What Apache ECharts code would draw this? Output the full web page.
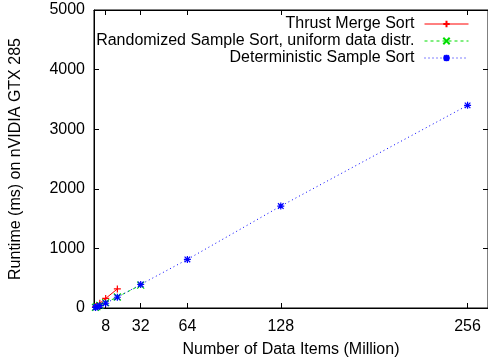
<!DOCTYPE html>
<html>
<head>
<meta charset="utf-8">
<script src="https://cdn.jsdelivr.net/npm/echarts@6/dist/echarts.min.js"></script>
<style>html,body{margin:0;padding:0;background:#fff}#c{width:488px;height:363px}</style>
</head>
<body>
<div id="c"></div>
<script>
var xTicks = [8, 32, 64, 128, 256];
var thrustX = [1, 2, 4, 8, 16];
var thrustY = [20, 40, 80, 160, 320];
var randX = [1, 2, 4, 8, 16, 32];
var randY = [10, 22, 45, 90, 185, 385];
var detX = [1, 2, 4, 8, 16, 32, 64, 128, 256];
var detY = [10, 20, 40, 80, 180, 395, 815, 1710, 3400];
var names = ['Thrust Merge Sort', 'Randomized Sample Sort, uniform data distr.', 'Deterministic Sample Sort'];

function pairs(xs, ys) { return xs.map(function (x, i) { return [x, ys[i]]; }); }

var FONT = 'Liberation Sans, Arial, sans-serif';
var plus = 'path://M0,5L10,5M5,0L5,10';
var cross = 'path://M0,0L10,10M10,0L0,10';
var star = 'path://M0,5L10,5M5,0L5,10M1,1L9,9M9,1L1,9';

var chart = echarts.init(document.getElementById('c'), null, {renderer: 'canvas'});

function mkSeries(name, data, color, type, sym) {
  return {
    name: name, type: 'line', data: data, color: color,
    xAxisIndex: 0, yAxisIndex: 0,
    symbol: sym, symbolSize: 7, showSymbol: true,
    lineStyle: {color: color, width: 1, type: type},
    itemStyle: {color: color, borderColor: color, borderWidth: 1.2},
    animation: false, silent: true
  };
}
function mkLegend(i, top) {
  return {
    data: [names[i]], right: 19, top: top + 1, align: 'right', orient: 'vertical',
    itemWidth: 44, itemHeight: 8, padding: 0,
    lineStyle: {width: 1},
    textStyle: {fontFamily: FONT, fontSize: 16, color: '#000', padding: [0, 5, 0, 0]},
    selectedMode: false
  };
}
var tickStyle = {show: true, inside: true, length: 5, lineStyle: {color: '#000', width: 1}};

chart.setOption({
  animation: false,
  grid: {left: 92, top: 10, width: 397, height: 299, show: true, borderColor: '#000', borderWidth: 1, backgroundColor: 'transparent'},
  legend: [mkLegend(0, 15), mkLegend(1, 32), mkLegend(2, 49)],
  xAxis: [{
    type: 'value', min: 0, max: 270, position: 'bottom',
    name: 'Number of Data Items (Million)', nameLocation: 'middle', nameGap: 34,
    nameTextStyle: {fontFamily: FONT, fontSize: 16, color: '#000'},
    axisLine: {show: true, onZero: false, lineStyle: {color: '#000'}},
    axisTick: Object.assign({customValues: xTicks}, tickStyle),
    axisLabel: {customValues: xTicks, fontFamily: FONT, fontSize: 16, color: '#000', margin: 11},
    splitLine: {show: false}
  }, {
    type: 'value', min: 0, max: 270, position: 'top',
    axisLine: {show: true, onZero: false, lineStyle: {color: '#000'}},
    axisTick: Object.assign({customValues: xTicks}, tickStyle),
    axisLabel: {show: false}, splitLine: {show: false}
  }],
  yAxis: [{
    type: 'value', min: 0, max: 5000, interval: 1000, position: 'left',
    name: 'Runtime (ms) on nVIDIA GTX 285', nameLocation: 'middle', nameGap: 70,
    nameTextStyle: {fontFamily: FONT, fontSize: 16, color: '#000'},
    axisLine: {show: true, onZero: false, lineStyle: {color: '#000'}},
    axisTick: tickStyle,
    axisLabel: {fontFamily: FONT, fontSize: 16, color: '#000', margin: 9, formatter: function (v) { return String(v); }},
    splitLine: {show: false}
  }, {
    type: 'value', min: 0, max: 5000, interval: 1000, position: 'right',
    axisLine: {show: true, onZero: false, lineStyle: {color: '#000'}},
    axisTick: tickStyle, axisLabel: {show: false}, splitLine: {show: false}
  }],
  series: [
    mkSeries(names[0], pairs(thrustX, thrustY), '#ff0000', 'solid', plus),
    mkSeries(names[1], pairs(randX, randY), '#00dd00', [3, 3], cross),
    mkSeries(names[2], pairs(detX, detY), '#0000ff', [1, 3], star)
  ]
});
</script>
</body>
</html>
